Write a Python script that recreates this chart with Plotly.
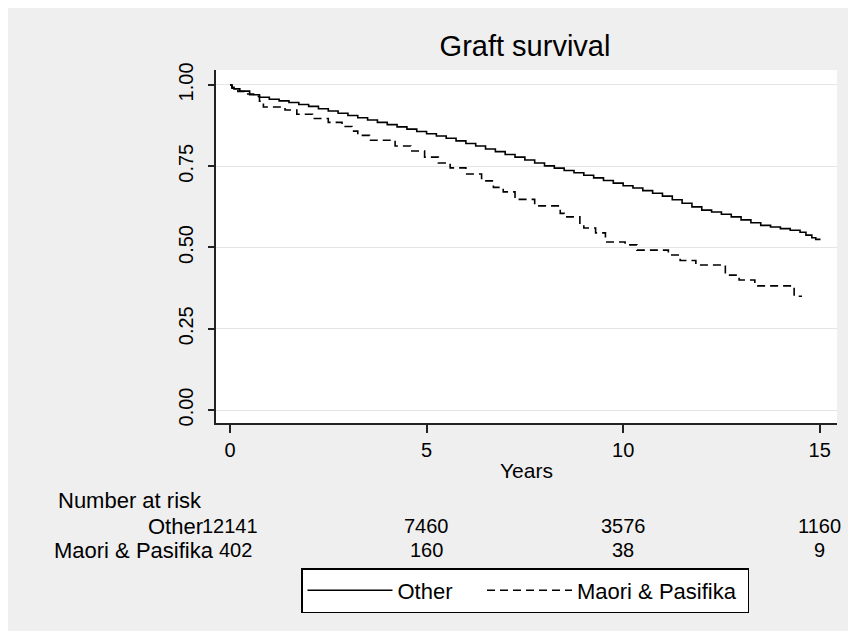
import plotly.graph_objects as go

# ---------------- data ----------------
other_t = [0, 0.05, 0.1, 0.25, 0.5, 0.75, 1.0, 1.25, 1.5, 1.75, 2.0, 2.25, 2.5, 2.75, 3.0,
           3.25, 3.5, 3.75, 4.0, 4.25, 4.5, 4.75, 5.0, 5.25, 5.5, 5.75, 6.0, 6.25, 6.5, 6.75,
           7.0, 7.25, 7.5, 7.75, 8.0, 8.25, 8.5, 8.75, 9.0, 9.25, 9.5, 9.75, 10.0, 10.25, 10.5,
           10.75, 11.0, 11.25, 11.5, 11.75, 12.0, 12.25, 12.5, 12.75, 13.0, 13.25, 13.5, 13.75,
           14.0, 14.25, 14.5, 14.65, 14.8, 14.9, 15.0]
other_s = [1.000, 0.993, 0.988, 0.981, 0.970, 0.962, 0.956, 0.951, 0.946, 0.940, 0.934, 0.927,
           0.920, 0.913, 0.906, 0.899, 0.892, 0.885, 0.878, 0.871, 0.864, 0.857, 0.850, 0.843,
           0.836, 0.828, 0.820, 0.812, 0.803, 0.795, 0.786, 0.778, 0.769, 0.760, 0.751, 0.744,
           0.737, 0.730, 0.722, 0.714, 0.706, 0.698, 0.690, 0.683, 0.675, 0.667, 0.658, 0.647,
           0.636, 0.625, 0.615, 0.609, 0.602, 0.594, 0.585, 0.576, 0.568, 0.563, 0.558, 0.553,
           0.547, 0.538, 0.530, 0.525, 0.522]

maori_t = [0, 0.05, 0.2, 0.4, 0.6, 0.75, 0.85, 1.4, 1.7, 2.1, 2.5, 2.85, 3.1, 3.25, 3.55, 4.2,
           4.6, 4.95, 5.3, 5.6, 6.0, 6.4, 6.7, 6.95, 7.25, 7.75, 8.4, 8.5, 8.9, 9.0, 9.3, 9.55,
           10.05, 10.35, 11.15, 11.45, 11.85, 12.6, 12.95, 13.35, 14.35, 14.55]
maori_s = [1.000, 0.990, 0.980, 0.972, 0.965, 0.950, 0.932, 0.923, 0.910, 0.897, 0.885, 0.872,
           0.858, 0.845, 0.830, 0.812, 0.797, 0.778, 0.760, 0.745, 0.726, 0.705, 0.685, 0.671,
           0.648, 0.628, 0.605, 0.594, 0.572, 0.560, 0.545, 0.517, 0.508, 0.492, 0.477, 0.460,
           0.446, 0.415, 0.400, 0.382, 0.350, 0.350]

group_names = ["Other", "Maori & Pasifika"]
risk_times = [0, 5, 10, 15]
risk_other = [12141, 7460, 3576, 1160]
risk_maori = [402, 160, 38, 9]
x_ticks = [0, 5, 10, 15]
y_ticks = [0.0, 0.25, 0.5, 0.75, 1.0]
y_tick_text = ["0.00", "0.25", "0.50", "0.75", "1.00"]

# ---------------- layout geometry (figure pixel coordinates) ----------------
W, H = 848, 623
L, R, T, B = 208, 19, 62, 208
PW, PH = W - L - R, H - T - B
FONT = "Liberation Sans, Arial, sans-serif"
BG = "#efefef"
WORD = 22
NUM = 20
NBSP = "\u00a0"


def px(p):
    return (p - L) / PW


def py(q):
    return (H - B - q) / PH


fig = go.Figure()
fig.add_trace(go.Scatter(x=other_t, y=other_s, mode="lines",
                         name=group_names[0] + NBSP * 4,
                         line=dict(color="black", width=1.6, shape="hv")))
fig.add_trace(go.Scatter(x=maori_t, y=maori_s, mode="lines", name=group_names[1] + NBSP,
                         line=dict(color="black", width=1.6, shape="hv", dash="8px,5px")))

ann = []
ann.append(dict(text="Number at risk", xref="paper", yref="paper", x=px(48), y=py(493),
                xanchor="left", yanchor="middle", showarrow=False, font=dict(size=WORD)))
ann.append(dict(text=group_names[0], xref="paper", yref="paper", x=px(197), y=py(518),
                xanchor="right", yanchor="middle", showarrow=False, font=dict(size=WORD)))
ann.append(dict(text=group_names[1], xref="paper", yref="paper", x=px(208), y=py(542),
                xanchor="right", yanchor="middle", showarrow=False, font=dict(size=WORD)))
for t, n in zip(risk_times, risk_other):
    ann.append(dict(text=str(n), xref="x", yref="paper", x=t, y=py(518),
                    xanchor="center", yanchor="middle", showarrow=False, font=dict(size=NUM)))
for i, (t, n) in enumerate(zip(risk_times, risk_maori)):
    ann.append(dict(text=str(n), xref="x", yref="paper", x=t, y=py(542),
                    xanchor="center", yanchor="middle", showarrow=False, font=dict(size=NUM),
                    xshift=5 if i == 0 else 0))

fig.update_layout(
    width=W, height=H,
    margin=dict(l=L, r=R, t=T, b=B, pad=0),
    paper_bgcolor=BG, plot_bgcolor="white",
    font=dict(family=FONT, size=NUM, color="black"),
    title=dict(text="Graft survival", x=px(517), xref="paper", xanchor="center",
               y=1 - 38 / H, yref="container", yanchor="middle",
               font=dict(family=FONT, size=29, color="black")),
    xaxis=dict(range=[-0.356, 15.44], tickvals=x_ticks, ticks="outside", ticklen=8,
               tickwidth=1.5, tickcolor="#222", showline=True, linecolor="#222", linewidth=1.5,
               showgrid=False, zeroline=False,
               title=dict(text="Years", standoff=4, font=dict(size=21)),
               tickfont=dict(size=20)),
    yaxis=dict(range=[-0.04, 1.046], tickvals=y_ticks, ticktext=y_tick_text, ticks="outside",
               ticklen=6, tickwidth=1.5, tickcolor="#222", showline=True, linecolor="#222",
               linewidth=1.5, showgrid=True, gridcolor="#e4e4e4", gridwidth=1, zeroline=False,
               tickangle=-90, tickfont=dict(size=20), ticklabelstandoff=7),
    showlegend=True,
    legend=dict(orientation="h", x=px(517), xanchor="center", y=py(560), yanchor="top",
                bgcolor="white", bordercolor="black", borderwidth=1.5, itemwidth=85,
                font=dict(size=WORD)),
    annotations=ann,
)

fig.write_html("out.html")
